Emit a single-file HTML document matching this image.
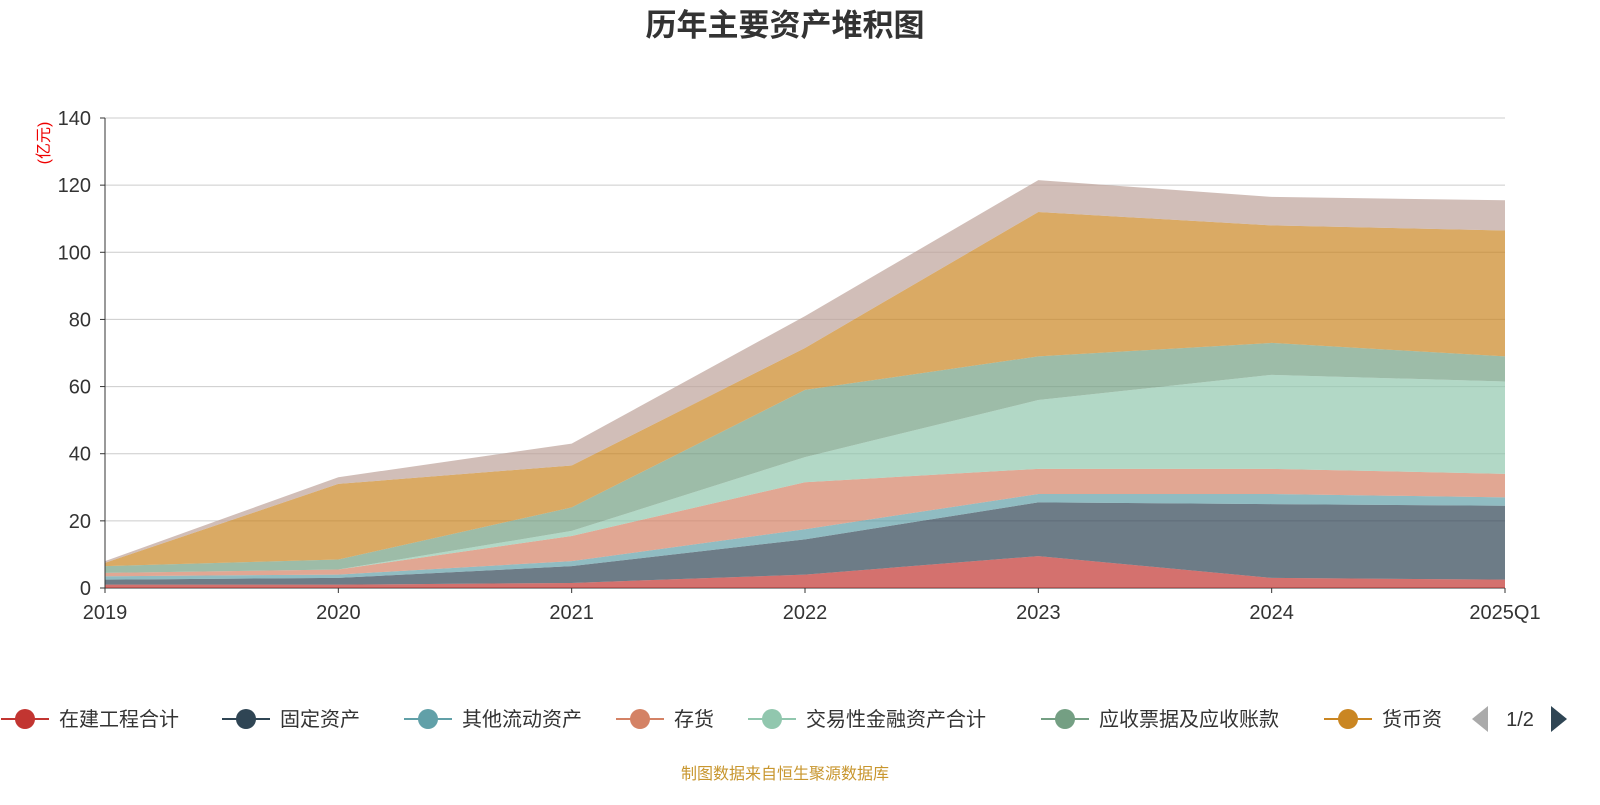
<!DOCTYPE html>
<html><head><meta charset="utf-8"><style>
body{margin:0;background:#fff;width:1600px;height:800px;overflow:hidden;font-family:"Liberation Sans","Noto Sans CJK SC",sans-serif}
</style></head><body>
<svg id="chart" width="1600" height="800" xmlns="http://www.w3.org/2000/svg" font-family="Liberation Sans, Noto Sans CJK SC, sans-serif">
<text x="785" y="36" text-anchor="middle" font-size="31" font-weight="bold" fill="#333">历年主要资产堆积图</text>
<text transform="translate(49,143) rotate(-90)" text-anchor="middle" font-size="16" fill="#e00">(亿元)</text>
<g id="grid"></g><g id="areas"></g><g id="axes"></g>
<g id="legend"></g>
<text x="785" y="779" text-anchor="middle" font-size="16" fill="#c8962e">制图数据来自恒生聚源数据库</text>
</svg>
<script>
const categories=["2019","2020","2021","2022","2023","2024","2025Q1"];
const seriesNames=["在建工程合计","固定资产","其他流动资产","存货","交易性金融资产合计","应收票据及应收账款","货币资金","其他"];
const s1=[1,1,1.5,4,9.5,3,2.5];
const s2=[1.5,2,5,10.5,16,22,22];
const s3=[1,1,1.5,3,2.5,3,2.5];
const s4=[1,1.5,7.5,14,7.5,7.5,7];
const s5=[0,0,1.5,7.5,20.5,28,27.5];
const s6=[2,3,7,20,13,9.5,7.5];
const s7=[1,22.5,12.5,12.5,43,35,37.5];
const s8=[0.5,2,6.5,9.5,9.5,8.5,9];
const yTicks=[0,20,40,60,80,100,120,140];
const colors=["#c23531","#2f4554","#61a0a8","#d48265","#91c7ae","#749f83","#ca8622","#bda29a"];
const NS="http://www.w3.org/2000/svg";
const x0=105,x1=1505,yb=588,yt=118,ymax=140;
const xs=i=>x0+i*(x1-x0)/(categories.length-1);
const ys=v=>yb-v*(yb-yt)/ymax;
function mk(t,a,p){const e=document.createElementNS(NS,t);for(const k in a)e.setAttribute(k,a[k]);p.appendChild(e);return e;}
const grid=document.getElementById('grid'),axes=document.getElementById('axes'),areas=document.getElementById('areas'),legend=document.getElementById('legend');
yTicks.forEach(v=>{
 const l=mk('line',{x1:x0,x2:x1,y1:ys(v),y2:ys(v),stroke:v?'#ccc':'#333','stroke-width':1},grid);
 
 
 const t=mk('text',{x:x0-14,y:ys(v)+7,'text-anchor':'end','font-size':20,fill:'#333'},axes);t.textContent=v;
 
 
 mk('line',{x1:x0-5,x2:x0,y1:ys(v),y2:ys(v),stroke:'#333'},axes);
});
const ax=mk('line',{x1:x0,x2:x0,y1:yt,y2:yb,stroke:'#333'},axes);


categories.forEach((c,i)=>{
 mk('line',{x1:xs(i),x2:xs(i),y1:yb,y2:yb+5,stroke:'#333'},axes);
 const t=mk('text',{x:xs(i),y:yb+31,'text-anchor':'middle','font-size':20,fill:'#333'},axes);t.textContent=c;
 
 
});
const series=[s1,s2,s3,s4,s5,s6,s7,s8];
let cum=categories.map(()=>0);
series.forEach((s,k)=>{
 const lo=cum.slice(),hi=cum.map((v,i)=>v+s[i]);
 let d=hi.map((v,i)=>(i?'L':'M')+xs(i)+','+ys(v)).join(' ');
 for(let i=lo.length-1;i>=0;i--)d+=' L'+xs(i)+','+ys(lo[i]);
 const p=mk('path',{d:d+'Z',fill:colors[k],'fill-opacity':0.7,stroke:'none'},areas);
 
 
 cum=hi;
});
const lx=[25,246,428,640,772,1065,1348],labels=seriesNames.slice(0,6).concat(["货币资"]);
labels.forEach((n,k)=>{
 const g=mk('g',{},legend);
 
 
 mk('line',{x1:lx[k]-24,x2:lx[k]+24,y1:719,y2:719,stroke:colors[k],'stroke-width':2},g);
 mk('circle',{cx:lx[k],cy:719,r:10,fill:colors[k]},g);
 const t=mk('text',{x:lx[k]+34,y:726,'font-size':20,fill:'#333'},g);t.textContent=n;
});
const pa=mk('path',{d:'M1488,706 L1472,719 L1488,732Z',fill:'#aaa'},legend);


const pt=mk('text',{x:1520,y:726,'text-anchor':'middle','font-size':20,fill:'#333'},legend);pt.textContent='1/2';


const pn=mk('path',{d:'M1551,706 L1567,719 L1551,732Z',fill:'#2f4554'},legend);


</script>
</body></html>
